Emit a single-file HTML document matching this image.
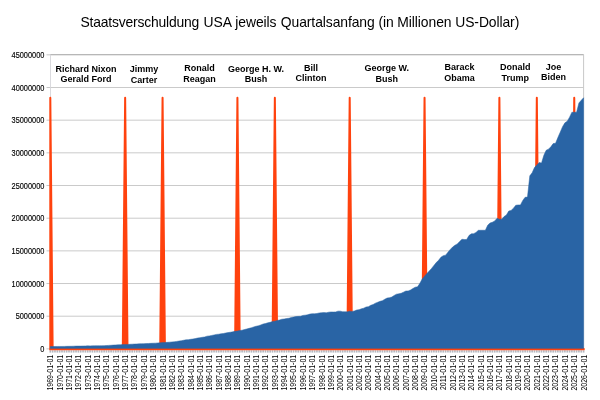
<!DOCTYPE html>
<html lang="de"><head><meta charset="utf-8"><title>Staatsverschuldung USA</title>
<style>
html,body{margin:0;padding:0;background:#fff;}
svg{display:block;font-family:"Liberation Sans",Arial,sans-serif;}
.grid line{stroke:#cacaca;stroke-width:1;}
.tick line{stroke:#c6c6c6;stroke-width:1;}
.xtick line{stroke:#b4b8c0;stroke-width:1.7;}
.yl text{font-size:7.4px;text-anchor:end;fill:#000;stroke:#000;stroke-width:0.12;}
.xl text{font-size:7px;text-anchor:end;fill:#000;}
.pl text{font-size:9px;font-weight:bold;text-anchor:middle;fill:#000;}
</style></head><body>
<svg width="600" height="400" viewBox="0 0 600 400">
<rect width="600" height="400" fill="#fff"/>
<text y="26.6" font-size="13.9" letter-spacing="-0.084" fill="#000" id="title"><tspan x="80.4" letter-spacing="-0.18">Staatsverschuldung </tspan><tspan x="203.5">USA </tspan><tspan x="235.3">jeweils </tspan><tspan x="280.83">Quartalsanfang (in Millionen US-Dollar)</tspan></text>
<g class="grid"><line x1="50.3" y1="316.20" x2="583.6" y2="316.20"/><line x1="50.3" y1="283.53" x2="583.6" y2="283.53"/><line x1="50.3" y1="250.86" x2="583.6" y2="250.86"/><line x1="50.3" y1="218.19" x2="583.6" y2="218.19"/><line x1="50.3" y1="185.51" x2="583.6" y2="185.51"/><line x1="50.3" y1="152.84" x2="583.6" y2="152.84"/><line x1="50.3" y1="120.17" x2="583.6" y2="120.17"/><line x1="50.3" y1="87.50" x2="583.6" y2="87.50"/><line x1="50.3" y1="54.83" x2="583.6" y2="54.83"/></g>
<path d="M50.3,54.6 H583.6" fill="none" stroke="#b3b3b3" stroke-width="1"/>
<path d="M583.6,54.6 V348.87" fill="none" stroke="#c8c8c8" stroke-width="1"/>
<line x1="50.5" y1="54.83" x2="50.5" y2="348.87" stroke="#dadade" stroke-width="1"/>
<g class="tick"><line x1="46.5" y1="348.87" x2="50.3" y2="348.87"/><line x1="46.5" y1="316.20" x2="50.3" y2="316.20"/><line x1="46.5" y1="283.53" x2="50.3" y2="283.53"/><line x1="46.5" y1="250.86" x2="50.3" y2="250.86"/><line x1="46.5" y1="218.19" x2="50.3" y2="218.19"/><line x1="46.5" y1="185.51" x2="50.3" y2="185.51"/><line x1="46.5" y1="152.84" x2="50.3" y2="152.84"/><line x1="46.5" y1="120.17" x2="50.3" y2="120.17"/><line x1="46.5" y1="87.50" x2="50.3" y2="87.50"/><line x1="46.5" y1="54.83" x2="50.3" y2="54.83"/></g>
<g class="xtick"><line x1="50.30" y1="350.3" x2="50.30" y2="352.6"/><line x1="52.64" y1="350.3" x2="52.64" y2="352.6"/><line x1="54.98" y1="350.3" x2="54.98" y2="352.6"/><line x1="57.32" y1="350.3" x2="57.32" y2="352.6"/><line x1="59.66" y1="350.3" x2="59.66" y2="352.6"/><line x1="62.00" y1="350.3" x2="62.00" y2="352.6"/><line x1="64.33" y1="350.3" x2="64.33" y2="352.6"/><line x1="66.67" y1="350.3" x2="66.67" y2="352.6"/><line x1="69.01" y1="350.3" x2="69.01" y2="352.6"/><line x1="71.35" y1="350.3" x2="71.35" y2="352.6"/><line x1="73.69" y1="350.3" x2="73.69" y2="352.6"/><line x1="76.03" y1="350.3" x2="76.03" y2="352.6"/><line x1="78.37" y1="350.3" x2="78.37" y2="352.6"/><line x1="80.71" y1="350.3" x2="80.71" y2="352.6"/><line x1="83.05" y1="350.3" x2="83.05" y2="352.6"/><line x1="85.39" y1="350.3" x2="85.39" y2="352.6"/><line x1="87.72" y1="350.3" x2="87.72" y2="352.6"/><line x1="90.06" y1="350.3" x2="90.06" y2="352.6"/><line x1="92.40" y1="350.3" x2="92.40" y2="352.6"/><line x1="94.74" y1="350.3" x2="94.74" y2="352.6"/><line x1="97.08" y1="350.3" x2="97.08" y2="352.6"/><line x1="99.42" y1="350.3" x2="99.42" y2="352.6"/><line x1="101.76" y1="350.3" x2="101.76" y2="352.6"/><line x1="104.10" y1="350.3" x2="104.10" y2="352.6"/><line x1="106.44" y1="350.3" x2="106.44" y2="352.6"/><line x1="108.78" y1="350.3" x2="108.78" y2="352.6"/><line x1="111.11" y1="350.3" x2="111.11" y2="352.6"/><line x1="113.45" y1="350.3" x2="113.45" y2="352.6"/><line x1="115.79" y1="350.3" x2="115.79" y2="352.6"/><line x1="118.13" y1="350.3" x2="118.13" y2="352.6"/><line x1="120.47" y1="350.3" x2="120.47" y2="352.6"/><line x1="122.81" y1="350.3" x2="122.81" y2="352.6"/><line x1="125.15" y1="350.3" x2="125.15" y2="352.6"/><line x1="127.49" y1="350.3" x2="127.49" y2="352.6"/><line x1="129.83" y1="350.3" x2="129.83" y2="352.6"/><line x1="132.17" y1="350.3" x2="132.17" y2="352.6"/><line x1="134.51" y1="350.3" x2="134.51" y2="352.6"/><line x1="136.84" y1="350.3" x2="136.84" y2="352.6"/><line x1="139.18" y1="350.3" x2="139.18" y2="352.6"/><line x1="141.52" y1="350.3" x2="141.52" y2="352.6"/><line x1="143.86" y1="350.3" x2="143.86" y2="352.6"/><line x1="146.20" y1="350.3" x2="146.20" y2="352.6"/><line x1="148.54" y1="350.3" x2="148.54" y2="352.6"/><line x1="150.88" y1="350.3" x2="150.88" y2="352.6"/><line x1="153.22" y1="350.3" x2="153.22" y2="352.6"/><line x1="155.56" y1="350.3" x2="155.56" y2="352.6"/><line x1="157.90" y1="350.3" x2="157.90" y2="352.6"/><line x1="160.23" y1="350.3" x2="160.23" y2="352.6"/><line x1="162.57" y1="350.3" x2="162.57" y2="352.6"/><line x1="164.91" y1="350.3" x2="164.91" y2="352.6"/><line x1="167.25" y1="350.3" x2="167.25" y2="352.6"/><line x1="169.59" y1="350.3" x2="169.59" y2="352.6"/><line x1="171.93" y1="350.3" x2="171.93" y2="352.6"/><line x1="174.27" y1="350.3" x2="174.27" y2="352.6"/><line x1="176.61" y1="350.3" x2="176.61" y2="352.6"/><line x1="178.95" y1="350.3" x2="178.95" y2="352.6"/><line x1="181.29" y1="350.3" x2="181.29" y2="352.6"/><line x1="183.62" y1="350.3" x2="183.62" y2="352.6"/><line x1="185.96" y1="350.3" x2="185.96" y2="352.6"/><line x1="188.30" y1="350.3" x2="188.30" y2="352.6"/><line x1="190.64" y1="350.3" x2="190.64" y2="352.6"/><line x1="192.98" y1="350.3" x2="192.98" y2="352.6"/><line x1="195.32" y1="350.3" x2="195.32" y2="352.6"/><line x1="197.66" y1="350.3" x2="197.66" y2="352.6"/><line x1="200.00" y1="350.3" x2="200.00" y2="352.6"/><line x1="202.34" y1="350.3" x2="202.34" y2="352.6"/><line x1="204.68" y1="350.3" x2="204.68" y2="352.6"/><line x1="207.02" y1="350.3" x2="207.02" y2="352.6"/><line x1="209.35" y1="350.3" x2="209.35" y2="352.6"/><line x1="211.69" y1="350.3" x2="211.69" y2="352.6"/><line x1="214.03" y1="350.3" x2="214.03" y2="352.6"/><line x1="216.37" y1="350.3" x2="216.37" y2="352.6"/><line x1="218.71" y1="350.3" x2="218.71" y2="352.6"/><line x1="221.05" y1="350.3" x2="221.05" y2="352.6"/><line x1="223.39" y1="350.3" x2="223.39" y2="352.6"/><line x1="225.73" y1="350.3" x2="225.73" y2="352.6"/><line x1="228.07" y1="350.3" x2="228.07" y2="352.6"/><line x1="230.41" y1="350.3" x2="230.41" y2="352.6"/><line x1="232.74" y1="350.3" x2="232.74" y2="352.6"/><line x1="235.08" y1="350.3" x2="235.08" y2="352.6"/><line x1="237.42" y1="350.3" x2="237.42" y2="352.6"/><line x1="239.76" y1="350.3" x2="239.76" y2="352.6"/><line x1="242.10" y1="350.3" x2="242.10" y2="352.6"/><line x1="244.44" y1="350.3" x2="244.44" y2="352.6"/><line x1="246.78" y1="350.3" x2="246.78" y2="352.6"/><line x1="249.12" y1="350.3" x2="249.12" y2="352.6"/><line x1="251.46" y1="350.3" x2="251.46" y2="352.6"/><line x1="253.80" y1="350.3" x2="253.80" y2="352.6"/><line x1="256.14" y1="350.3" x2="256.14" y2="352.6"/><line x1="258.47" y1="350.3" x2="258.47" y2="352.6"/><line x1="260.81" y1="350.3" x2="260.81" y2="352.6"/><line x1="263.15" y1="350.3" x2="263.15" y2="352.6"/><line x1="265.49" y1="350.3" x2="265.49" y2="352.6"/><line x1="267.83" y1="350.3" x2="267.83" y2="352.6"/><line x1="270.17" y1="350.3" x2="270.17" y2="352.6"/><line x1="272.51" y1="350.3" x2="272.51" y2="352.6"/><line x1="274.85" y1="350.3" x2="274.85" y2="352.6"/><line x1="277.19" y1="350.3" x2="277.19" y2="352.6"/><line x1="279.53" y1="350.3" x2="279.53" y2="352.6"/><line x1="281.86" y1="350.3" x2="281.86" y2="352.6"/><line x1="284.20" y1="350.3" x2="284.20" y2="352.6"/><line x1="286.54" y1="350.3" x2="286.54" y2="352.6"/><line x1="288.88" y1="350.3" x2="288.88" y2="352.6"/><line x1="291.22" y1="350.3" x2="291.22" y2="352.6"/><line x1="293.56" y1="350.3" x2="293.56" y2="352.6"/><line x1="295.90" y1="350.3" x2="295.90" y2="352.6"/><line x1="298.24" y1="350.3" x2="298.24" y2="352.6"/><line x1="300.58" y1="350.3" x2="300.58" y2="352.6"/><line x1="302.92" y1="350.3" x2="302.92" y2="352.6"/><line x1="305.25" y1="350.3" x2="305.25" y2="352.6"/><line x1="307.59" y1="350.3" x2="307.59" y2="352.6"/><line x1="309.93" y1="350.3" x2="309.93" y2="352.6"/><line x1="312.27" y1="350.3" x2="312.27" y2="352.6"/><line x1="314.61" y1="350.3" x2="314.61" y2="352.6"/><line x1="316.95" y1="350.3" x2="316.95" y2="352.6"/><line x1="319.29" y1="350.3" x2="319.29" y2="352.6"/><line x1="321.63" y1="350.3" x2="321.63" y2="352.6"/><line x1="323.97" y1="350.3" x2="323.97" y2="352.6"/><line x1="326.31" y1="350.3" x2="326.31" y2="352.6"/><line x1="328.65" y1="350.3" x2="328.65" y2="352.6"/><line x1="330.98" y1="350.3" x2="330.98" y2="352.6"/><line x1="333.32" y1="350.3" x2="333.32" y2="352.6"/><line x1="335.66" y1="350.3" x2="335.66" y2="352.6"/><line x1="338.00" y1="350.3" x2="338.00" y2="352.6"/><line x1="340.34" y1="350.3" x2="340.34" y2="352.6"/><line x1="342.68" y1="350.3" x2="342.68" y2="352.6"/><line x1="345.02" y1="350.3" x2="345.02" y2="352.6"/><line x1="347.36" y1="350.3" x2="347.36" y2="352.6"/><line x1="349.70" y1="350.3" x2="349.70" y2="352.6"/><line x1="352.04" y1="350.3" x2="352.04" y2="352.6"/><line x1="354.37" y1="350.3" x2="354.37" y2="352.6"/><line x1="356.71" y1="350.3" x2="356.71" y2="352.6"/><line x1="359.05" y1="350.3" x2="359.05" y2="352.6"/><line x1="361.39" y1="350.3" x2="361.39" y2="352.6"/><line x1="363.73" y1="350.3" x2="363.73" y2="352.6"/><line x1="366.07" y1="350.3" x2="366.07" y2="352.6"/><line x1="368.41" y1="350.3" x2="368.41" y2="352.6"/><line x1="370.75" y1="350.3" x2="370.75" y2="352.6"/><line x1="373.09" y1="350.3" x2="373.09" y2="352.6"/><line x1="375.43" y1="350.3" x2="375.43" y2="352.6"/><line x1="377.76" y1="350.3" x2="377.76" y2="352.6"/><line x1="380.10" y1="350.3" x2="380.10" y2="352.6"/><line x1="382.44" y1="350.3" x2="382.44" y2="352.6"/><line x1="384.78" y1="350.3" x2="384.78" y2="352.6"/><line x1="387.12" y1="350.3" x2="387.12" y2="352.6"/><line x1="389.46" y1="350.3" x2="389.46" y2="352.6"/><line x1="391.80" y1="350.3" x2="391.80" y2="352.6"/><line x1="394.14" y1="350.3" x2="394.14" y2="352.6"/><line x1="396.48" y1="350.3" x2="396.48" y2="352.6"/><line x1="398.82" y1="350.3" x2="398.82" y2="352.6"/><line x1="401.16" y1="350.3" x2="401.16" y2="352.6"/><line x1="403.49" y1="350.3" x2="403.49" y2="352.6"/><line x1="405.83" y1="350.3" x2="405.83" y2="352.6"/><line x1="408.17" y1="350.3" x2="408.17" y2="352.6"/><line x1="410.51" y1="350.3" x2="410.51" y2="352.6"/><line x1="412.85" y1="350.3" x2="412.85" y2="352.6"/><line x1="415.19" y1="350.3" x2="415.19" y2="352.6"/><line x1="417.53" y1="350.3" x2="417.53" y2="352.6"/><line x1="419.87" y1="350.3" x2="419.87" y2="352.6"/><line x1="422.21" y1="350.3" x2="422.21" y2="352.6"/><line x1="424.55" y1="350.3" x2="424.55" y2="352.6"/><line x1="426.88" y1="350.3" x2="426.88" y2="352.6"/><line x1="429.22" y1="350.3" x2="429.22" y2="352.6"/><line x1="431.56" y1="350.3" x2="431.56" y2="352.6"/><line x1="433.90" y1="350.3" x2="433.90" y2="352.6"/><line x1="436.24" y1="350.3" x2="436.24" y2="352.6"/><line x1="438.58" y1="350.3" x2="438.58" y2="352.6"/><line x1="440.92" y1="350.3" x2="440.92" y2="352.6"/><line x1="443.26" y1="350.3" x2="443.26" y2="352.6"/><line x1="445.60" y1="350.3" x2="445.60" y2="352.6"/><line x1="447.94" y1="350.3" x2="447.94" y2="352.6"/><line x1="450.28" y1="350.3" x2="450.28" y2="352.6"/><line x1="452.61" y1="350.3" x2="452.61" y2="352.6"/><line x1="454.95" y1="350.3" x2="454.95" y2="352.6"/><line x1="457.29" y1="350.3" x2="457.29" y2="352.6"/><line x1="459.63" y1="350.3" x2="459.63" y2="352.6"/><line x1="461.97" y1="350.3" x2="461.97" y2="352.6"/><line x1="464.31" y1="350.3" x2="464.31" y2="352.6"/><line x1="466.65" y1="350.3" x2="466.65" y2="352.6"/><line x1="468.99" y1="350.3" x2="468.99" y2="352.6"/><line x1="471.33" y1="350.3" x2="471.33" y2="352.6"/><line x1="473.67" y1="350.3" x2="473.67" y2="352.6"/><line x1="476.00" y1="350.3" x2="476.00" y2="352.6"/><line x1="478.34" y1="350.3" x2="478.34" y2="352.6"/><line x1="480.68" y1="350.3" x2="480.68" y2="352.6"/><line x1="483.02" y1="350.3" x2="483.02" y2="352.6"/><line x1="485.36" y1="350.3" x2="485.36" y2="352.6"/><line x1="487.70" y1="350.3" x2="487.70" y2="352.6"/><line x1="490.04" y1="350.3" x2="490.04" y2="352.6"/><line x1="492.38" y1="350.3" x2="492.38" y2="352.6"/><line x1="494.72" y1="350.3" x2="494.72" y2="352.6"/><line x1="497.06" y1="350.3" x2="497.06" y2="352.6"/><line x1="499.39" y1="350.3" x2="499.39" y2="352.6"/><line x1="501.73" y1="350.3" x2="501.73" y2="352.6"/><line x1="504.07" y1="350.3" x2="504.07" y2="352.6"/><line x1="506.41" y1="350.3" x2="506.41" y2="352.6"/><line x1="508.75" y1="350.3" x2="508.75" y2="352.6"/><line x1="511.09" y1="350.3" x2="511.09" y2="352.6"/><line x1="513.43" y1="350.3" x2="513.43" y2="352.6"/><line x1="515.77" y1="350.3" x2="515.77" y2="352.6"/><line x1="518.11" y1="350.3" x2="518.11" y2="352.6"/><line x1="520.45" y1="350.3" x2="520.45" y2="352.6"/><line x1="522.79" y1="350.3" x2="522.79" y2="352.6"/><line x1="525.12" y1="350.3" x2="525.12" y2="352.6"/><line x1="527.46" y1="350.3" x2="527.46" y2="352.6"/><line x1="529.80" y1="350.3" x2="529.80" y2="352.6"/><line x1="532.14" y1="350.3" x2="532.14" y2="352.6"/><line x1="534.48" y1="350.3" x2="534.48" y2="352.6"/><line x1="536.82" y1="350.3" x2="536.82" y2="352.6"/><line x1="539.16" y1="350.3" x2="539.16" y2="352.6"/><line x1="541.50" y1="350.3" x2="541.50" y2="352.6"/><line x1="543.84" y1="350.3" x2="543.84" y2="352.6"/><line x1="546.18" y1="350.3" x2="546.18" y2="352.6"/><line x1="548.51" y1="350.3" x2="548.51" y2="352.6"/><line x1="550.85" y1="350.3" x2="550.85" y2="352.6"/><line x1="553.19" y1="350.3" x2="553.19" y2="352.6"/><line x1="555.53" y1="350.3" x2="555.53" y2="352.6"/><line x1="557.87" y1="350.3" x2="557.87" y2="352.6"/><line x1="560.21" y1="350.3" x2="560.21" y2="352.6"/><line x1="562.55" y1="350.3" x2="562.55" y2="352.6"/><line x1="564.89" y1="350.3" x2="564.89" y2="352.6"/><line x1="567.23" y1="350.3" x2="567.23" y2="352.6"/><line x1="569.57" y1="350.3" x2="569.57" y2="352.6"/><line x1="571.90" y1="350.3" x2="571.90" y2="352.6"/><line x1="574.24" y1="350.3" x2="574.24" y2="352.6"/><line x1="576.58" y1="350.3" x2="576.58" y2="352.6"/><line x1="578.92" y1="350.3" x2="578.92" y2="352.6"/><line x1="581.26" y1="350.3" x2="581.26" y2="352.6"/><line x1="583.60" y1="350.3" x2="583.60" y2="352.6"/></g>
<path d="M50.30,348.87 L50.30,97.76 L52.64,348.87 L122.81,348.87 L125.15,97.76 L127.49,348.87 L160.23,348.87 L162.57,97.76 L164.91,348.87 L235.08,348.87 L237.42,97.76 L239.76,348.87 L272.51,348.87 L274.85,97.76 L277.19,348.87 L347.36,348.87 L349.70,97.76 L352.04,348.87 L422.21,348.87 L424.55,97.76 L426.88,348.87 L497.06,348.87 L499.39,97.76 L501.73,348.87 L534.48,348.87 L536.82,97.76 L539.16,348.87 L571.90,348.87 L574.24,97.76 L576.58,348.87 L583.60,348.87 L583.60,348.87 Z" fill="#ff420e" stroke="#ff420e" stroke-width="2" stroke-linejoin="round"/>
<path d="M50.30,348.87 L50.30,346.52 L52.64,346.56 L54.98,346.51 L57.32,346.46 L59.66,346.44 L62.00,346.45 L64.33,346.40 L66.67,346.33 L69.01,346.31 L71.35,346.27 L73.69,346.18 L76.03,346.10 L78.37,346.08 L80.71,346.08 L83.05,346.03 L85.39,345.93 L87.72,345.87 L90.06,345.88 L92.40,345.86 L94.74,345.80 L97.08,345.77 L99.42,345.77 L101.76,345.72 L104.10,345.65 L106.44,345.54 L108.78,345.39 L111.11,345.25 L113.45,345.10 L115.79,344.95 L118.13,344.82 L120.47,344.72 L122.81,344.60 L125.15,344.50 L127.49,344.46 L129.83,344.30 L132.17,344.17 L134.51,344.05 L136.84,343.98 L139.18,343.83 L141.52,343.71 L143.86,343.66 L146.20,343.61 L148.54,343.47 L150.88,343.35 L153.22,343.23 L155.56,343.14 L157.90,342.94 L160.23,342.79 L162.57,342.57 L164.91,342.52 L167.25,342.35 L169.59,342.15 L171.93,341.94 L174.27,341.82 L176.61,341.41 L178.95,341.05 L181.29,340.74 L183.62,340.25 L185.96,339.87 L188.30,339.65 L190.64,339.31 L192.98,338.99 L195.32,338.60 L197.66,338.00 L200.00,337.69 L202.34,337.27 L204.68,336.96 L207.02,336.16 L209.35,335.89 L211.69,335.41 L214.03,334.98 L216.37,334.40 L218.71,334.19 L221.05,333.78 L223.39,333.51 L225.73,332.98 L228.07,332.62 L230.41,332.22 L232.74,331.87 L235.08,331.33 L237.42,330.96 L239.76,330.57 L242.10,330.20 L244.44,329.57 L246.78,328.93 L249.12,328.33 L251.46,327.74 L253.80,326.88 L256.14,326.23 L258.47,325.75 L260.81,324.92 L263.15,324.03 L265.49,323.51 L267.83,322.83 L270.17,322.31 L272.51,321.58 L274.85,321.23 L277.19,320.43 L279.53,320.04 L281.86,319.23 L284.20,318.97 L286.54,318.51 L288.88,318.21 L291.22,317.50 L293.56,317.09 L295.90,316.52 L298.24,316.37 L300.58,316.27 L302.92,315.43 L305.25,315.15 L307.59,314.73 L309.93,314.09 L312.27,313.71 L314.61,313.74 L316.95,313.50 L319.29,312.92 L321.63,312.65 L323.97,312.62 L326.31,312.76 L328.65,312.19 L330.98,311.94 L333.32,312.02 L335.66,311.91 L338.00,311.13 L340.34,311.15 L342.68,311.72 L345.02,311.79 L347.36,311.87 L349.70,311.14 L352.04,311.45 L354.37,310.92 L356.71,310.03 L359.05,309.63 L361.39,308.84 L363.73,308.17 L366.07,307.01 L368.41,306.65 L370.75,305.29 L373.09,304.55 L375.43,303.14 L377.76,302.27 L380.10,301.34 L382.44,300.65 L384.78,299.24 L387.12,298.05 L389.46,297.66 L391.80,297.04 L394.14,295.48 L396.48,294.17 L398.82,293.85 L401.16,293.28 L403.49,292.15 L405.83,291.04 L408.17,290.93 L410.51,290.01 L412.85,288.56 L415.19,287.20 L417.53,286.85 L419.87,283.37 L422.21,278.96 L424.55,276.16 L426.88,273.43 L429.22,271.05 L431.56,268.43 L433.90,265.41 L436.24,262.61 L438.58,260.26 L440.92,257.23 L443.26,255.63 L445.60,255.15 L447.94,252.23 L450.28,249.40 L452.61,247.05 L454.95,245.27 L457.29,243.89 L459.63,241.50 L461.97,239.28 L464.31,239.50 L466.65,239.50 L468.99,235.49 L471.33,233.86 L473.67,233.65 L476.00,232.40 L478.34,230.33 L480.68,230.26 L483.02,230.26 L485.36,230.27 L487.70,225.23 L490.04,222.99 L492.38,222.23 L494.72,220.97 L497.06,218.34 L499.39,219.19 L501.73,219.20 L504.07,216.59 L506.41,214.97 L508.75,211.07 L511.09,210.38 L513.43,208.28 L515.77,205.29 L518.11,204.93 L520.45,204.96 L522.79,200.42 L525.12,197.27 L527.46,197.12 L529.80,175.86 L532.14,172.80 L534.48,167.56 L536.82,165.05 L539.16,162.45 L541.50,163.11 L543.84,155.34 L546.18,150.22 L548.51,149.13 L550.85,146.77 L553.19,143.57 L555.53,143.31 L557.87,137.60 L560.21,132.15 L562.55,126.70 L564.89,122.87 L567.23,121.27 L569.57,117.14 L571.90,112.21 L574.24,112.24 L576.58,112.26 L578.92,102.94 L581.26,100.31 L583.60,97.76 L583.60,348.87 Z" fill="#2964a5" stroke="#2964a5" stroke-width="0.5" stroke-linejoin="round"/>
<line x1="49.3" y1="349.55" x2="584.6" y2="349.55" stroke="#ff420e" stroke-width="1.5"/>
<g class="yl"><text transform="translate(44.4,351.97) scale(1,1.12)">0</text><text transform="translate(44.4,319.30) scale(1,1.12)">5000000</text><text transform="translate(44.4,286.63) scale(1,1.12)">10000000</text><text transform="translate(44.4,253.96) scale(1,1.12)">15000000</text><text transform="translate(44.4,221.29) scale(1,1.12)">20000000</text><text transform="translate(44.4,188.61) scale(1,1.12)">25000000</text><text transform="translate(44.4,155.94) scale(1,1.12)">30000000</text><text transform="translate(44.4,123.27) scale(1,1.12)">35000000</text><text transform="translate(44.4,90.60) scale(1,1.12)">40000000</text><text transform="translate(44.4,57.93) scale(1,1.12)">45000000</text></g>
<g class="xl"><text transform="translate(50.30,354.8) rotate(-90) scale(1,1.22)" x="0" y="2.4">1969-01-01</text><text transform="translate(59.66,354.8) rotate(-90) scale(1,1.22)" x="0" y="2.4">1970-01-01</text><text transform="translate(69.01,354.8) rotate(-90) scale(1,1.22)" x="0" y="2.4">1971-01-01</text><text transform="translate(78.37,354.8) rotate(-90) scale(1,1.22)" x="0" y="2.4">1972-01-01</text><text transform="translate(87.72,354.8) rotate(-90) scale(1,1.22)" x="0" y="2.4">1973-01-01</text><text transform="translate(97.08,354.8) rotate(-90) scale(1,1.22)" x="0" y="2.4">1974-01-01</text><text transform="translate(106.44,354.8) rotate(-90) scale(1,1.22)" x="0" y="2.4">1975-01-01</text><text transform="translate(115.79,354.8) rotate(-90) scale(1,1.22)" x="0" y="2.4">1976-01-01</text><text transform="translate(125.15,354.8) rotate(-90) scale(1,1.22)" x="0" y="2.4">1977-01-01</text><text transform="translate(134.51,354.8) rotate(-90) scale(1,1.22)" x="0" y="2.4">1978-01-01</text><text transform="translate(143.86,354.8) rotate(-90) scale(1,1.22)" x="0" y="2.4">1979-01-01</text><text transform="translate(153.22,354.8) rotate(-90) scale(1,1.22)" x="0" y="2.4">1980-01-01</text><text transform="translate(162.57,354.8) rotate(-90) scale(1,1.22)" x="0" y="2.4">1981-01-01</text><text transform="translate(171.93,354.8) rotate(-90) scale(1,1.22)" x="0" y="2.4">1982-01-01</text><text transform="translate(181.29,354.8) rotate(-90) scale(1,1.22)" x="0" y="2.4">1983-01-01</text><text transform="translate(190.64,354.8) rotate(-90) scale(1,1.22)" x="0" y="2.4">1984-01-01</text><text transform="translate(200.00,354.8) rotate(-90) scale(1,1.22)" x="0" y="2.4">1985-01-01</text><text transform="translate(209.35,354.8) rotate(-90) scale(1,1.22)" x="0" y="2.4">1986-01-01</text><text transform="translate(218.71,354.8) rotate(-90) scale(1,1.22)" x="0" y="2.4">1987-01-01</text><text transform="translate(228.07,354.8) rotate(-90) scale(1,1.22)" x="0" y="2.4">1988-01-01</text><text transform="translate(237.42,354.8) rotate(-90) scale(1,1.22)" x="0" y="2.4">1989-01-01</text><text transform="translate(246.78,354.8) rotate(-90) scale(1,1.22)" x="0" y="2.4">1990-01-01</text><text transform="translate(256.14,354.8) rotate(-90) scale(1,1.22)" x="0" y="2.4">1991-01-01</text><text transform="translate(265.49,354.8) rotate(-90) scale(1,1.22)" x="0" y="2.4">1992-01-01</text><text transform="translate(274.85,354.8) rotate(-90) scale(1,1.22)" x="0" y="2.4">1993-01-01</text><text transform="translate(284.20,354.8) rotate(-90) scale(1,1.22)" x="0" y="2.4">1994-01-01</text><text transform="translate(293.56,354.8) rotate(-90) scale(1,1.22)" x="0" y="2.4">1995-01-01</text><text transform="translate(302.92,354.8) rotate(-90) scale(1,1.22)" x="0" y="2.4">1996-01-01</text><text transform="translate(312.27,354.8) rotate(-90) scale(1,1.22)" x="0" y="2.4">1997-01-01</text><text transform="translate(321.63,354.8) rotate(-90) scale(1,1.22)" x="0" y="2.4">1998-01-01</text><text transform="translate(330.98,354.8) rotate(-90) scale(1,1.22)" x="0" y="2.4">1999-01-01</text><text transform="translate(340.34,354.8) rotate(-90) scale(1,1.22)" x="0" y="2.4">2000-01-01</text><text transform="translate(349.70,354.8) rotate(-90) scale(1,1.22)" x="0" y="2.4">2001-01-01</text><text transform="translate(359.05,354.8) rotate(-90) scale(1,1.22)" x="0" y="2.4">2002-01-01</text><text transform="translate(368.41,354.8) rotate(-90) scale(1,1.22)" x="0" y="2.4">2003-01-01</text><text transform="translate(377.76,354.8) rotate(-90) scale(1,1.22)" x="0" y="2.4">2004-01-01</text><text transform="translate(387.12,354.8) rotate(-90) scale(1,1.22)" x="0" y="2.4">2005-01-01</text><text transform="translate(396.48,354.8) rotate(-90) scale(1,1.22)" x="0" y="2.4">2006-01-01</text><text transform="translate(405.83,354.8) rotate(-90) scale(1,1.22)" x="0" y="2.4">2007-01-01</text><text transform="translate(415.19,354.8) rotate(-90) scale(1,1.22)" x="0" y="2.4">2008-01-01</text><text transform="translate(424.55,354.8) rotate(-90) scale(1,1.22)" x="0" y="2.4">2009-01-01</text><text transform="translate(433.90,354.8) rotate(-90) scale(1,1.22)" x="0" y="2.4">2010-01-01</text><text transform="translate(443.26,354.8) rotate(-90) scale(1,1.22)" x="0" y="2.4">2011-01-01</text><text transform="translate(452.61,354.8) rotate(-90) scale(1,1.22)" x="0" y="2.4">2012-01-01</text><text transform="translate(461.97,354.8) rotate(-90) scale(1,1.22)" x="0" y="2.4">2013-01-01</text><text transform="translate(471.33,354.8) rotate(-90) scale(1,1.22)" x="0" y="2.4">2014-01-01</text><text transform="translate(480.68,354.8) rotate(-90) scale(1,1.22)" x="0" y="2.4">2015-01-01</text><text transform="translate(490.04,354.8) rotate(-90) scale(1,1.22)" x="0" y="2.4">2016-01-01</text><text transform="translate(499.39,354.8) rotate(-90) scale(1,1.22)" x="0" y="2.4">2017-01-01</text><text transform="translate(508.75,354.8) rotate(-90) scale(1,1.22)" x="0" y="2.4">2018-01-01</text><text transform="translate(518.11,354.8) rotate(-90) scale(1,1.22)" x="0" y="2.4">2019-01-01</text><text transform="translate(527.46,354.8) rotate(-90) scale(1,1.22)" x="0" y="2.4">2020-01-01</text><text transform="translate(536.82,354.8) rotate(-90) scale(1,1.22)" x="0" y="2.4">2021-01-01</text><text transform="translate(546.18,354.8) rotate(-90) scale(1,1.22)" x="0" y="2.4">2022-01-01</text><text transform="translate(555.53,354.8) rotate(-90) scale(1,1.22)" x="0" y="2.4">2023-01-01</text><text transform="translate(564.89,354.8) rotate(-90) scale(1,1.22)" x="0" y="2.4">2024-01-01</text><text transform="translate(574.24,354.8) rotate(-90) scale(1,1.22)" x="0" y="2.4">2025-01-01</text><text transform="translate(583.60,354.8) rotate(-90) scale(1,1.22)" x="0" y="2.4">2026-01-01</text></g>
<g class="pl"><text x="86.0" y="71.6">Richard Nixon</text><text x="86.0" y="81.9">Gerald Ford</text><text x="144.0" y="72.4">Jimmy</text><text x="144.0" y="82.7">Carter</text><text x="199.5" y="71.3">Ronald</text><text x="199.5" y="82.1">Reagan</text><text x="256.0" y="71.9">George H. W.</text><text x="256.0" y="82.4">Bush</text><text x="311.0" y="70.5">Bill</text><text x="311.0" y="81.1">Clinton</text><text x="386.7" y="71.2">George W.</text><text x="386.7" y="81.9">Bush</text><text x="459.5" y="70.4">Barack</text><text x="459.5" y="81.4">Obama</text><text x="515.3" y="69.9">Donald</text><text x="515.3" y="80.5">Trump</text><text x="553.5" y="69.9">Joe</text><text x="553.5" y="80.3">Biden</text></g>
</svg>
</body></html>
